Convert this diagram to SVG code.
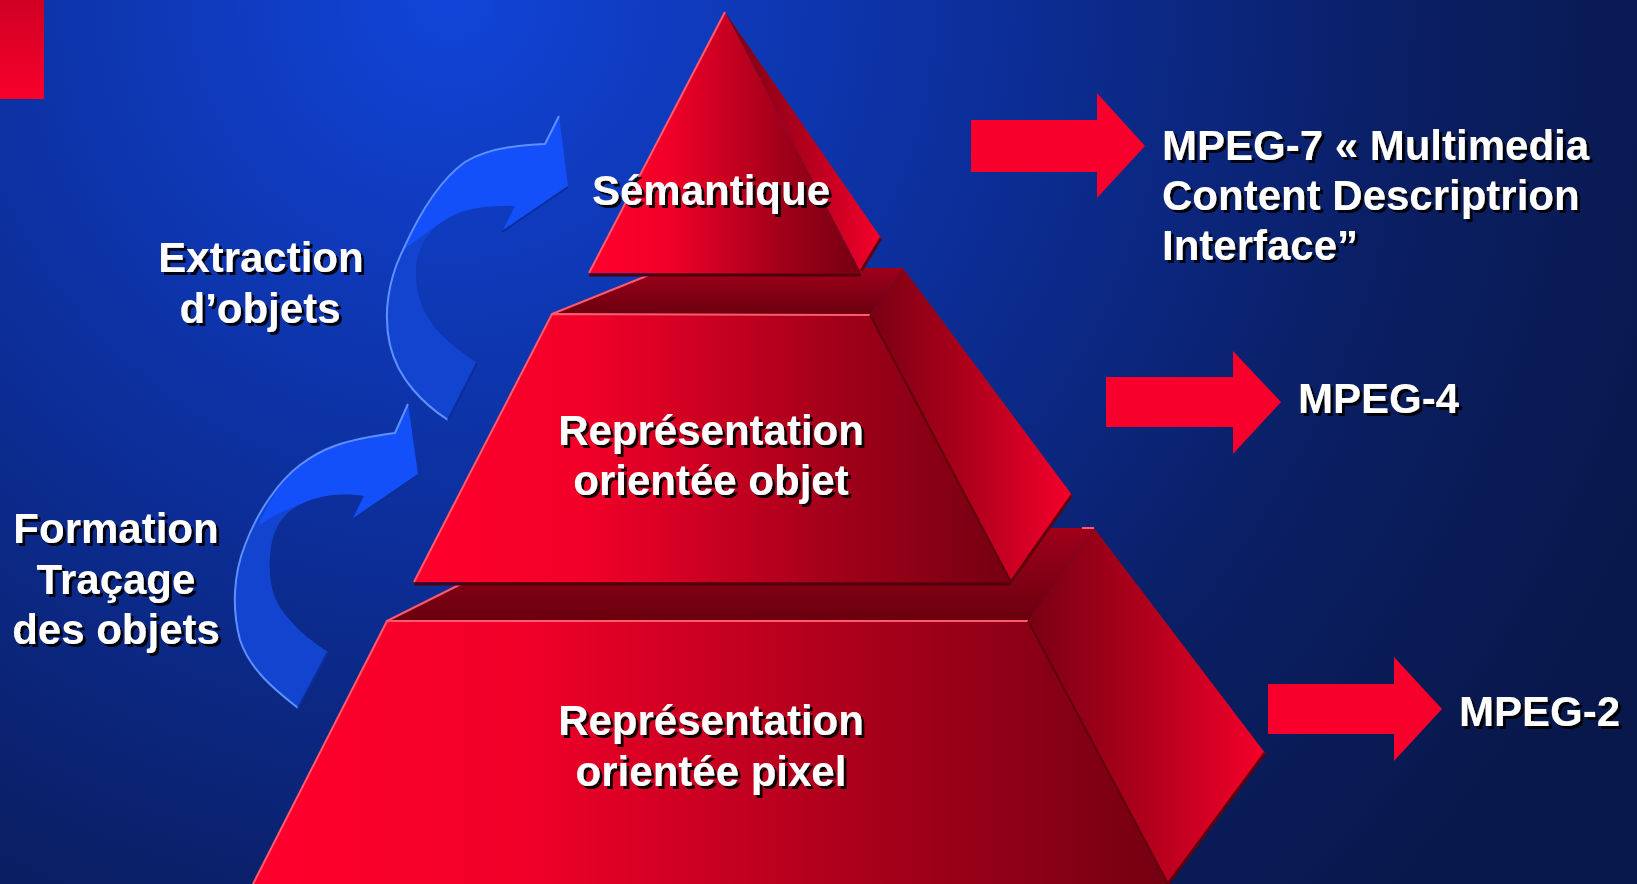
<svg xmlns="http://www.w3.org/2000/svg" width="1637" height="884" viewBox="0 0 1637 884">
<defs>
<radialGradient id="bg" gradientUnits="userSpaceOnUse" cx="450" cy="0" r="1300">
<stop offset="0" stop-color="#1144d8"/>
<stop offset="0.4" stop-color="#0c2f9c"/>
<stop offset="0.75" stop-color="#0a1e62"/>
<stop offset="1" stop-color="#09184c"/>
</radialGradient>
<linearGradient id="front" x1="0" y1="0" x2="1" y2="0">
<stop offset="0" stop-color="#ff002c"/>
<stop offset="0.3" stop-color="#f00028"/>
<stop offset="0.7" stop-color="#a3001a"/>
<stop offset="1" stop-color="#740010"/>
</linearGradient>
<linearGradient id="side" x1="0" y1="0" x2="1" y2="0">
<stop offset="0" stop-color="#7a0012"/>
<stop offset="0.5" stop-color="#b0001c"/>
<stop offset="1" stop-color="#f5002a"/>
</linearGradient>
<linearGradient id="top" x1="0" y1="0" x2="0" y2="1">
<stop offset="0" stop-color="#a0001a"/>
<stop offset="1" stop-color="#6a000e"/>
</linearGradient>
<linearGradient id="redbox" x1="0" y1="0" x2="0" y2="1">
<stop offset="0" stop-color="#d00022"/>
<stop offset="1" stop-color="#f8002c"/>
</linearGradient>
<filter id="sh" x="-10%" y="-30%" width="120%" height="160%">
<feDropShadow dx="3" dy="3" stdDeviation="0.6" flood-color="#000" flood-opacity="0.9"/>
</filter>
</defs>
<style>
.t{font-family:"Liberation Sans",Arial,sans-serif;font-weight:bold;font-size:42px;fill:#fff;filter:url(#sh)}
.c{text-anchor:middle}
.hl{fill:none;stroke:#ff5a70;stroke-width:2}
.dk{fill:none;stroke:#50000c;stroke-width:3}
.ra{fill:#f8002c}
.bl{fill:#1244d0}
.bb{fill:#1450fa}
.be{fill:none;stroke:#5e90ff;stroke-width:2}
.bs{fill:none;stroke:#0b2e9a;stroke-width:2}
</style>
<rect width="1637" height="884" fill="url(#bg)"/>
<rect id="corner" x="0" y="0" width="44" height="99" fill="url(#redbox)"/>

<g id="tier-bottom">
<polygon points="387,621 573,528 1094,528 1028,621" fill="url(#top)"/>
<polygon points="1028,621 1094,528 1265,753 1168,884" fill="url(#side)"/>
<polygon points="387,621 1028,621 1168,884 253,884" fill="url(#front)"/>
<polyline class="hl" points="253,884 387,621 1028,621"/>
<line class="hl" x1="387" y1="621" x2="461" y2="584"/>
<line class="hl" x1="1082" y1="528" x2="1094" y2="528"/>
<line x1="1028" y1="621" x2="1168" y2="884" stroke="#60000e" stroke-width="2"/>
<line x1="1265" y1="753" x2="1168" y2="884" stroke="#60000e" stroke-width="3"/>
<text class="t c" x="711" y="735">Représentation</text>
<text class="t c" x="711" y="786">orientée pixel</text>
</g>

<g id="tier-middle">
<polygon points="552,314 666,268 903,268 870,315" fill="url(#top)"/>
<polygon points="870,315 903,268 1072,495 1011,582" fill="url(#side)"/>
<polygon points="552,314 870,315 1011,582 414,582" fill="url(#front)"/>
<line class="dk" x1="414" y1="584" x2="1011" y2="584"/>
<polyline class="hl" points="414,582 552,314 870,315"/>
<line class="hl" x1="552" y1="314" x2="649" y2="275"/>
<line x1="870" y1="315" x2="1011" y2="582" stroke="#60000e" stroke-width="2"/>
<line x1="1072" y1="495" x2="1011" y2="582" stroke="#60000e" stroke-width="3"/>
<text class="t c" x="711" y="445">Représentation</text>
<text class="t c" x="711" y="495">orientée objet</text>
</g>

<g id="tier-top">
<polygon points="725,12 881,238 861,273" fill="url(#side)"/>
<polygon points="725,12 861,273 589,273" fill="url(#front)"/>
<line class="dk" x1="589" y1="275" x2="861" y2="275"/>
<line class="hl" x1="589" y1="273" x2="725" y2="12"/>
<line x1="881" y1="238" x2="861" y2="271" stroke="#60000e" stroke-width="3"/>
<text class="t c" x="711" y="205">Sémantique</text>
</g>

<g id="connectors">
<g id="arrow-extraction">
<path class="bl" d="M448,420 C425,405 398,380 390,345 C383,315 388,280 403,250 C420,212 440,180 465,162 C485,150 510,145 545,144 L559,116 L568,187 L502,232 L515,206 C490,205 465,208 450,217 C430,228 416,245 416,273 C416,300 427,322 447,340 C456,348 465,355 477,363 Z"/>
<path class="bb" d="M403,250 C420,212 440,180 465,162 C485,150 510,145 545,144 L559,116 L568,187 L502,232 L515,206 C490,205 465,208 450,217 C432,227 418,240 403,250 Z"/>
<path class="be" d="M448,420 C425,405 398,380 390,345 C383,315 388,280 403,250 C420,212 440,180 465,162 C485,150 510,145 545,144 L559,116"/>
<path class="bs" d="M477,363 L448,420 M568,187 L502,232"/>
</g>
<g id="arrow-formation">
<path class="bl" d="M298,708 C275,690 250,670 240,640 C232,610 233,575 245,545 C258,510 280,480 300,465 C320,450 340,440 395,433 L408,404 L418,475 L352,520 L364,496 C345,492 320,495 303,503 C285,512 272,525 270,557 C268,585 275,605 290,620 C300,632 310,640 328,652 Z"/>
<path class="bb" d="M258,526 C268,502 282,480 300,465 C320,450 340,440 395,433 L408,404 L418,475 L352,520 L364,496 C345,492 320,495 303,503 C285,510 270,517 258,526 Z"/>
<path class="be" d="M298,708 C275,690 250,670 240,640 C232,610 233,575 245,545 C258,510 280,480 300,465 C320,450 340,440 395,433 L408,404"/>
<path class="bs" d="M328,652 L298,708 M418,475 L352,520"/>
</g>
<polygon id="arrow-mpeg7" class="ra" points="971,120 1097,120 1097,93 1145,146 1097,198 1097,172 971,172"/>
<polygon id="arrow-mpeg4" class="ra" points="1106,377 1233,377 1233,351 1281,402 1233,454 1233,427 1106,427"/>
<polygon id="arrow-mpeg2" class="ra" points="1268,684 1394,684 1394,657 1442,709 1394,761 1394,734 1268,734"/>
</g>

<g id="label-extraction">
<text class="t c" x="261" y="272">Extraction</text>
<text class="t c" x="260" y="323">d’objets</text>
</g>
<g id="label-formation">
<text class="t c" x="116" y="543">Formation</text>
<text class="t c" x="116" y="594">Traçage</text>
<text class="t c" x="116" y="644">des objets</text>
</g>
<g id="label-mpeg7">
<text class="t" x="1162" y="160">MPEG-7 « Multimedia</text>
<text class="t" x="1162" y="210">Content Descriptrion</text>
<text class="t" x="1162" y="260">Interface”</text>
</g>
<g id="label-mpeg4"><text class="t" x="1298" y="413">MPEG-4</text></g>
<g id="label-mpeg2"><text class="t" x="1459" y="726">MPEG-2</text></g>
</svg>
